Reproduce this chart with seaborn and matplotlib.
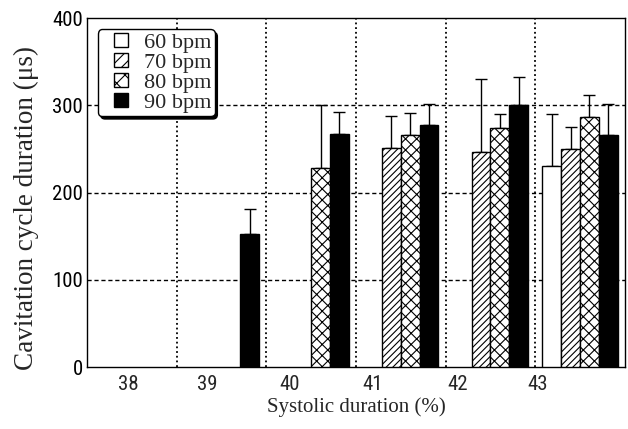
import numpy as np
import pandas as pd
import matplotlib
matplotlib.use("Agg")
import matplotlib.pyplot as plt
import seaborn as sns
from matplotlib.patches import Patch, Rectangle
from matplotlib.container import BarContainer
from matplotlib.legend_handler import HandlerPatch

nan = np.nan
categories = ["38", "39", "40", "41", "42", "43"]
series = ["60 bpm", "70 bpm", "80 bpm", "90 bpm"]
mean_60 = [nan, nan, nan, nan, nan, 230]
err_60 = [nan, nan, nan, nan, nan, 60]
mean_70 = [nan, nan, nan, 251, 246, 250]
err_70 = [nan, nan, nan, 37, 84, 25]
mean_80 = [nan, nan, 228, 266, 274, 286]
err_80 = [nan, nan, 72, 25, 16, 26]
mean_90 = [nan, 152, 267, 277, 300, 266]
err_90 = [nan, 29, 25, 24, 32, 36]
y_ticks = [0, 100, 200, 300, 400]

means = [mean_60, mean_70, mean_80, mean_90]
errs = [err_60, err_70, err_80, err_90]
rows = []
for s, m, e in zip(series, means, errs):
    for c, v, ev in zip(categories, m, e):
        if not np.isnan(v):
            rows.append({"cat": c, "val": v, "err": ev, "series": s})
df = pd.DataFrame(rows)

sns.set_style("white")
plt.rcParams["hatch.linewidth"] = 0.8
plt.rcParams["hatch.color"] = "black"
serif = ["Liberation Serif", "DejaVu Serif"]
narrow = ["Roboto Condensed", "DejaVu Sans"]

fig = plt.figure(figsize=(6.28, 4.29), dpi=100)
ax = fig.add_axes([0.1385, 0.1445, 0.8565, 0.8135])

fills = ["white", "white", "white", "black"]
hatches = ["", "/////", "xxx", ""]
width = 0.84
sns.barplot(data=df, x="cat", y="val", hue="series", order=categories,
            hue_order=series, palette=fills, saturation=1, width=width,
            edgecolor="black", linewidth=1.0, errorbar=None, legend=False,
            ax=ax, zorder=3)

step = width / len(series)
bar_conts = [c for c in ax.containers if isinstance(c, BarContainer)]
for cont in bar_conts:
    for p in cont.patches:
        xc = p.get_x() + p.get_width() / 2
        ci = int(round(xc))
        hi = int(round((xc - ci + width / 2 - step / 2) / step))
        p.set_hatch(hatches[hi])
        p.set_facecolor(fills[hi])
        p.set_edgecolor("black")
        e = errs[hi][ci]
        top = p.get_height()
        ax.errorbar([xc], [top], yerr=[[0], [e]], fmt="none", ecolor="black",
                    elinewidth=1.0, capsize=4.5, capthick=1.0, zorder=2)

ax.set_xlim(-0.5, 5.5)
ax.set_ylim(0, 400)
ax.set_yticks(y_ticks)
ax.set_yticklabels([str(t) for t in y_ticks], family=narrow, stretch="condensed",
                   fontsize=15)
label_shift = [-0.04, -0.16, -0.24, -0.31, -0.37, -0.47]
ax.set_xticks([i + d for i, d in enumerate(label_shift)])
ax.set_xticklabels(categories, family=narrow, stretch="condensed", fontsize=15)
ax.tick_params(axis="x", length=0, pad=6)
ax.tick_params(axis="y", direction="in", length=4, width=1, pad=3, colors="black")

for y in [100, 200, 300]:
    ax.axhline(y, color="black", lw=1.0, ls=(0, (3, 2)), zorder=1)
for x in [0.5, 1.5, 2.5, 3.5, 4.5]:
    ax.axvline(x, color="black", lw=1.3, ls=(0, (1, 1.6)), zorder=1)

for sp in ax.spines.values():
    sp.set_color("black")
    sp.set_linewidth(1.0)

ax.set_xlabel("Systolic duration (%)", family=serif, fontsize=15, labelpad=2)
ax.set_ylabel("Cavitation cycle duration (\u03bcs)", family=serif, fontsize=19.5)
ax.yaxis.set_label_coords(-0.09, 0.455)


def square_right(legend, orig_handle, xdescent, ydescent, width, height, fontsize):
    return Rectangle((-xdescent + width - height, -ydescent), height, height)


handles = [Patch(facecolor=f, edgecolor="black", hatch=h, linewidth=1.0)
           for f, h in zip(fills, ["", "///", "xx", ""])]
leg = ax.legend(handles, series, loc="upper left", bbox_to_anchor=(0.012, 0.98),
                prop={"family": serif, "size": 16}, frameon=True, fancybox=True,
                shadow={"color": "black", "alpha": 1.0}, labelspacing=0.0,
                handlelength=1.22, handleheight=0.62, handletextpad=0.7,
                borderpad=0.15, borderaxespad=0.2,
                handler_map={Patch: HandlerPatch(patch_func=square_right)})
leg.get_frame().set_edgecolor("black")
leg.get_frame().set_linewidth(1.0)
leg.get_frame().set_facecolor("white")
leg.get_frame().set_alpha(1.0)
leg.set_zorder(5)

fig.savefig("out.png", dpi=100)
